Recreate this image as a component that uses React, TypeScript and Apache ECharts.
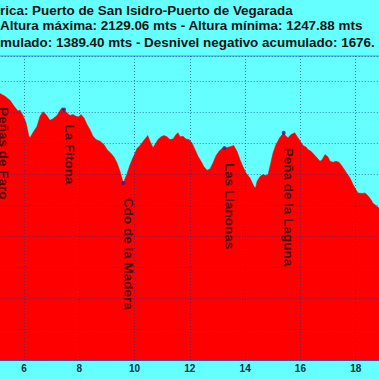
import React, { useEffect, useRef } from "react";
import * as echarts from "echarts";

const titleLines = [
  "rica: Puerto de San Isidro-Puerto de Vegarada",
  "Altura máxima: 2129.06 mts - Altura mínima: 1247.88 mts",
  "mulado: 1389.40 mts - Desnivel negativo acumulado: 1676.",
];

const distanceKm = [
  5.0, 5.132, 5.313, 5.494, 5.638, 5.783, 5.855, 5.964, 6.072, 6.181,
  6.217, 6.326, 6.47, 6.579, 6.687, 6.796, 6.941, 7.049, 7.194, 7.302,
  7.375, 7.447, 7.556, 7.664, 7.773, 7.881, 7.99, 8.062, 8.171, 8.279,
  8.388, 8.496, 8.605, 8.75, 8.894, 9.003, 9.148, 9.256, 9.365, 9.473,
  9.593, 9.727, 9.835, 9.944, 10.088, 10.197, 10.305, 10.414, 10.475, 10.559,
  10.667, 10.739, 10.848, 10.957, 11.065, 11.174, 11.282, 11.391, 11.499, 11.572,
  11.644, 11.752, 11.861, 11.97, 12.078, 12.187, 12.295, 12.404, 12.512, 12.621,
  12.729, 12.838, 12.946, 13.055, 13.163, 13.272, 13.381, 13.489, 13.587, 13.706,
  13.815, 13.923, 14.032, 14.177, 14.321, 14.376, 14.43, 14.539, 14.647, 14.756,
  14.828, 14.9, 15.009, 15.117, 15.251, 15.396, 15.479, 15.552, 15.66, 15.794,
  15.913, 16.022, 16.094, 16.203, 16.275, 16.383, 16.492, 16.601, 16.709, 16.782,
  16.89, 16.999, 17.071, 17.18, 17.288, 17.397, 17.469, 17.578, 17.687, 17.795,
  17.904, 18.012, 18.084, 18.229, 18.337, 18.446, 18.554, 18.627, 18.735, 18.844,
  19.0,
];

const altitudeM = [
  2066, 2060, 2051, 2038, 2019, 2003, 2006, 1989, 1966, 1922,
  1917, 1934, 1954, 1986, 2001, 1992, 1973, 1978, 1989, 2005,
  2014, 2008, 1997, 1989, 1992, 1986, 1984, 1992, 1981, 1960,
  1943, 1922, 1911, 1906, 1895, 1879, 1866, 1855, 1836, 1809,
  1771, 1801, 1830, 1853, 1882, 1892, 1905, 1917, 1924, 1906,
  1885, 1895, 1911, 1920, 1924, 1920, 1911, 1913, 1927, 1933,
  1920, 1922, 1913, 1911, 1900, 1879, 1857, 1841, 1823, 1812,
  1816, 1836, 1859, 1873, 1882, 1884, 1886, 1889, 1892, 1873,
  1846, 1823, 1803, 1787, 1760, 1755, 1776, 1792, 1798, 1795,
  1798, 1825, 1868, 1895, 1917, 1933, 1922, 1917, 1927, 1933,
  1917, 1902, 1892, 1887, 1879, 1873, 1863, 1852, 1841, 1846,
  1863, 1855, 1841, 1838, 1841, 1838, 1830, 1816, 1801, 1787,
  1766, 1749, 1739, 1737, 1739, 1730, 1717, 1706, 1698, 1690,
  1680,
];

const waypointNames = ["Peñas de Faro", "La Fitona", "Cdo de la Madera", "Las Llanonas", "Peña de la Laguna"];
const waypointKm = [5.06, 7.45, 9.593, 13.25, 15.396];
const waypointAlt = [2064, 2008, 1771, 1884, 1933];

const xMin = 4;
const xMax = 20;
const xInterval = 2;
const yMin = 1200;
const yMax = 2180.6;
const yInterval = 100;

const BG = "#66FFFF";
const GRID_LINE = "rgba(20, 50, 160, 0.62)";

export default function App() {
  const ref = useRef<HTMLDivElement>(null);

  useEffect(() => {
    if (!ref.current) return;
    const chart = echarts.init(ref.current, undefined, { renderer: "svg" });

    const profile = distanceKm.map((k, i) => [k, altitudeM[i]]);
    const waypoints = waypointNames.map((n, i) => ({ name: n, value: [waypointKm[i], waypointAlt[i]] }));

    chart.setOption({
      animation: false,
      backgroundColor: BG,
      graphic: titleLines.map((t, i) => ({
        type: "text",
        x: 0,
        y: [10.3, 26, 42.5][i],
        scaleX: 1.12,
        style: {
          text: t,
          fill: "#141414",
          font: "bold 12px 'Liberation Sans', Arial, sans-serif",
          verticalAlign: "middle",
          align: "left",
        },
      })),
      grid: {
        left: -31.28,
        right: -31.98,
        top: 56,
        bottom: 19,
        containLabel: false,
        outerBoundsMode: "none",
        show: true,
        borderColor: "#3a9cc8",
        borderWidth: 1,
        backgroundColor: "transparent",
      },
      xAxis: {
        type: "value",
        min: xMin,
        max: xMax,
        interval: xInterval,
        z: 5,
        axisLine: { show: true, lineStyle: { color: "rgba(60,60,170,0.8)", width: 1 } },
        axisTick: { show: false },
        axisLabel: {
          margin: 3,
          showMinLabel: false,
          showMaxLabel: false,
          color: "#10303a",
          fontWeight: "bold",
          fontSize: 10,
          fontFamily: "'Liberation Sans Narrow', 'Arial Narrow', 'Liberation Sans', sans-serif",
        },
        splitLine: { show: true, lineStyle: { color: GRID_LINE, width: 1, type: [1, 2] } },
      },
      yAxis: {
        type: "value",
        min: yMin,
        max: yMax,
        interval: yInterval,
        z: 5,
        axisLine: { show: false },
        axisTick: { show: false },
        axisLabel: { show: false },
        splitLine: { show: true, lineStyle: { color: GRID_LINE, width: 1, type: [1, 2] } },
      },
      series: [
        {
          type: "line",
          data: profile,
          symbol: "none",
          lineStyle: { width: 0.5, color: "#FF0000" },
          areaStyle: { color: "#FF0000", opacity: 1 },
          z: 2,
        },
        {
          type: "scatter",
          data: waypoints,
          symbol: "circle",
          symbolSize: 4,
          itemStyle: { color: "#2a1aa8" },
          z: 6,
          label: {
            show: true,
            formatter: "{b}",
            position: [0, 17],
            rotate: -90,
            align: "left",
            verticalAlign: "bottom",
            color: "#111",
            fontWeight: "bold",
            fontSize: 13.5,
            fontFamily: "'Liberation Sans', Arial, sans-serif",
          },
        },
      ],
    });

    return () => chart.dispose();
  }, []);

  return (
    <div
      ref={ref}
      style={{ position: "fixed", left: 0, top: 0, width: 379, height: 379 }}
    />
  );
}
